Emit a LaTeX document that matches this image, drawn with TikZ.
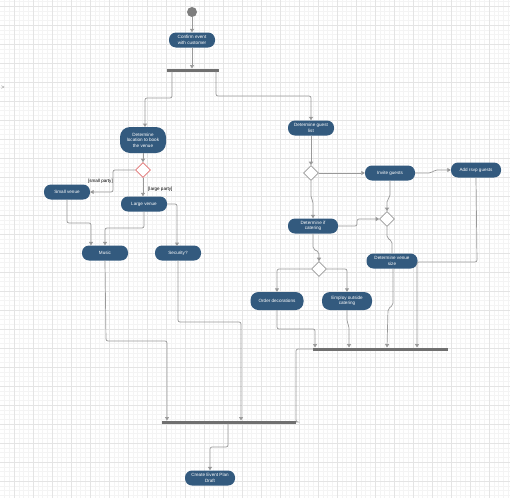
\documentclass[tikz,border=0pt]{standalone}
\usepackage{fontspec}
\setmainfont{Liberation Sans}
\usetikzlibrary{shapes.geometric,arrows.meta}
\definecolor{nodeblue}{HTML}{335A7E}
\definecolor{edgegray}{HTML}{999999}
\definecolor{bargray}{HTML}{707070}
\definecolor{gridminor}{HTML}{F4F4F4}
\definecolor{gridmajor}{HTML}{E4E4E4}
\definecolor{diared}{HTML}{E07070}
\tikzset{
  act/.style={draw=none, fill=nodeblue, text=white, rounded corners=7pt, align=center,
    inner sep=0pt, minimum width=#1, minimum height=15pt, font=\fontsize{4.6}{5.6}\selectfont},
  act/.default=46pt,
  dec/.style={diamond, draw=edgegray, fill=white, line width=0.6pt, inner sep=0pt, minimum width=15pt, minimum height=15pt},
  decred/.style={dec, draw=diared},
  syncbar/.style={fill=bargray, draw=none, inner sep=0pt, minimum height=3pt, minimum width=#1},
  flow/.style={draw=edgegray, line width=0.7pt, rounded corners=2pt, -{Triangle[width=4pt,length=3.5pt]}},
  plain/.style={draw=edgegray, line width=0.7pt, rounded corners=2pt},
  guard/.style={font=\fontsize{4.6}{5.6}\selectfont, text=black, inner sep=0pt}
}
\begin{document}
\begin{tikzpicture}[x=1pt,y=-1pt]
\useasboundingbox (0,0) rectangle (510,498);
\fill[white] (0,0) rectangle (510,498);
\foreach \i in {0,...,107} {
  \draw[gridminor, line width=0.4pt] ({-0.25+4.75*\i},0) -- ({-0.25+4.75*\i},498);
  \draw[gridminor, line width=0.4pt] (0,{1.25+4.75*\i}) -- (510,{1.25+4.75*\i});
}
\foreach \i in {0,...,26} {
  \draw[gridmajor, line width=0.6pt] ({14+19*\i-19},0) -- ({14+19*\i-19},498);
  \draw[gridmajor, line width=0.6pt] (0,{6+19*\i}) -- (510,{6+19*\i});
}
\node[text=gray, font=\fontsize{6}{6}\selectfont, inner sep=0pt] (chev) at (3,88) {>};

% start
\node[circle, fill=bargray!90, minimum size=10pt, inner sep=0pt] (start) at (192,12) {};
\node[act] (confirm) at (192,40) {Confirm event\\with customer};
\node[syncbar=52pt] (bar1) at (193,70) {};

% left branch
\node[act, minimum height=26pt, rounded corners=10pt] (loc) at (143,140) {Determine\\location to book\\the venue};
\node[decred] (d1) at (143,170) {};
\node[act] (small) at (67,192) {Small venue};
\node[act] (large) at (144,204) {Large venue};
\node[act] (music) at (105,253) {Music};
\node[act] (security) at (178,253) {Security?};
\node[guard, anchor=east] (lsmall) at (113,181) {[small party]};
\node[guard, anchor=west] (llarge) at (148,189) {[large party]};

% right branch
\node[act] (guest) at (311,128) {Determine guest\\list};
\node[dec] (d2) at (311,173) {};
\node[act=50pt] (invite) at (390,173) {Invite guests};
\node[act=50pt] (rsvp) at (476,170) {Add rsvp guests};
\node[act=50pt] (catering) at (313,226) {Determine if\\catering};
\node[dec] (d3) at (387,219) {};
\node[act=51pt] (venue) at (392,261) {Determine venue\\size};
\node[dec] (d4) at (319,269) {};
\node[act=53pt, minimum height=18pt, rounded corners=8pt] (decor) at (277,301) {Order decorations};
\node[act=50pt, minimum height=18pt, rounded corners=8pt] (employ) at (347,301) {Employ outside\\catering};
\node[syncbar=135pt] (bar3) at (380.5,349) {};
\node[syncbar=134pt] (bar2) at (229,422) {};
\node[act=50pt] (plan) at (210,478) {Create Event Plan\\Draft};

% arrival points on bars
\coordinate (b1a) at (192,68.5);
\coordinate (b3a) at (315,347.5);
\coordinate (b3b) at (349,347.5);
\coordinate (b3c) at (387,347.5);
\coordinate (b3d) at (417,347.5);
\coordinate (b2a) at (167,420.5);
\coordinate (b2b) at (241,420.5);

% connectors
\draw[flow] (start) -- (confirm);
\draw[flow] (confirm) -- (b1a);
\draw[flow] (bar1.south -| 172,0) -- (172,98) -- (145,98) -- (145,127);
\draw[flow] (bar1.south -| 216,0) -- (216,96) -- (311,96) -- (guest.north);
\draw[flow] (loc) -- (d1);
\draw[flow] (d1.west) -- (113,170) -- (113,192) -- (small.east);
\draw[flow] (d1.south) -- (large.north -| d1.south);
\draw[flow] (small.south) -- (67,223) -- (91,223) -- (music.north -| 91,0);
\draw[flow] (large.south) -- (144,228) -- (105,228) -- (music.north);
\draw[flow] (large.east) -- (177,204) -- (177,246);
\draw[flow] (music.south) -- (106,341) -- (167,341) -- (b2a);
\draw[flow] (security.south) -- (178,322) -- (241,322) -- (b2b);

\draw[flow] (guest) -- (d2);
\draw[flow] (d2.east) -- (invite.west);
\draw[flow] (invite.east) -- (431,173) -- (435,170) -- (rsvp.west);
\draw[flow] (d2.south) -- (311,198) -- (313,201) -- (catering.north);
\draw[flow] (invite.south -| 390,0) -- (390,197) -- (387,200) -- (d3.north);
\draw[flow] (catering.east) -- (357,226) -- (357,219) -- (d3.west);
\draw[plain] (d3.south) -- (387,238) -- (392,241) -- (venue.north -| 392,0);
\draw[flow] (catering.south) -- (313,249) -- (319,252) -- (d4.north);
\draw[flow] (d4.west) -- (277,269) -- (decor.north);
\draw[flow] (d4.east) -- (347,269) -- (employ.north);
\draw[flow] (decor.south) -- (277,329) -- (315,329) -- (b3a);
\draw[flow] (employ.south) -- (347,322) -- (349,326) -- (b3b);
\draw[flow] (venue.south -| 393,0) -- (393,305) -- (388,309) -- (b3c);
\draw[flow] (rsvp.south) -- (477,262) -- (417,262) -- (b3d);
\draw[plain] (bar3.west) -- (296,349) -- (296,422) -- (bar2.east);
\draw[flow] (bar2.south -| 228,0) -- (228,447) -- (210,447) -- (plan.north);
\end{tikzpicture}
\end{document}
